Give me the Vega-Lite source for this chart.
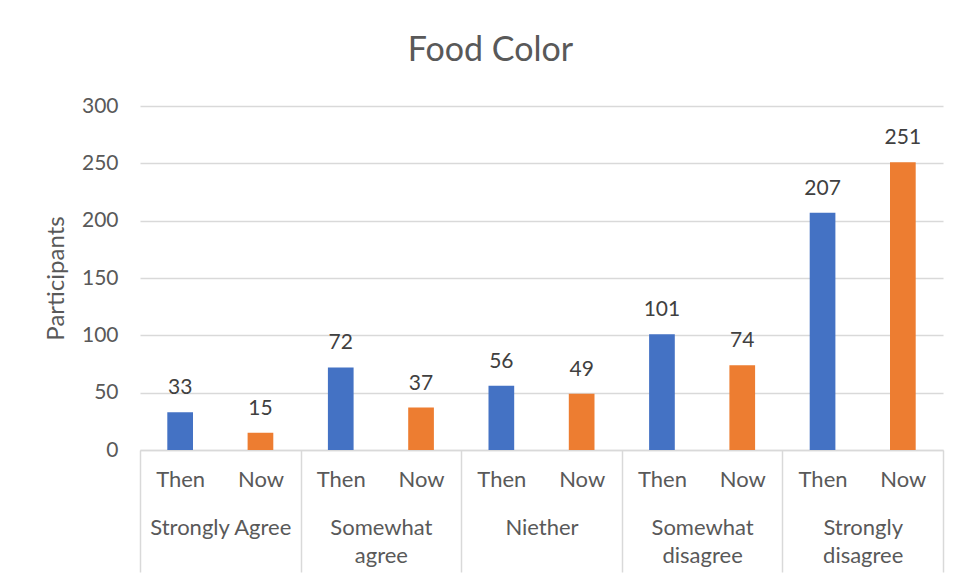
{
  "$schema": "https://vega.github.io/schema/vega-lite/v6.json",
  "autosize": {"type": "none"},
  "padding": {"left": 140, "top": 106, "right": 21, "bottom": 131},
  "width": 803,
  "height": 344,
  "background": "white",
  "title": {
    "text": "Food Color",
    "font": "Lato",
    "fontSize": 34,
    "fontWeight": "normal",
    "color": "#595959",
    "anchor": "middle",
    "baseline": "bottom",
    "offset": -7,
    "dx": -51
  },
  "data": {
    "values": [
      {"group": "Strongly Agree", "period": "Then", "key": "Strongly Agree|Then", "value": 33},
      {"group": "Strongly Agree", "period": "Now", "key": "Strongly Agree|Now", "value": 15},
      {"group": "Somewhat agree", "period": "Then", "key": "Somewhat agree|Then", "value": 72},
      {"group": "Somewhat agree", "period": "Now", "key": "Somewhat agree|Now", "value": 37},
      {"group": "Niether", "period": "Then", "key": "Niether|Then", "value": 56},
      {"group": "Niether", "period": "Now", "key": "Niether|Now", "value": 49},
      {"group": "Somewhat disagree", "period": "Then", "key": "Somewhat disagree|Then", "value": 101},
      {"group": "Somewhat disagree", "period": "Now", "key": "Somewhat disagree|Now", "value": 74},
      {"group": "Strongly disagree", "period": "Then", "key": "Strongly disagree|Then", "value": 207},
      {"group": "Strongly disagree", "period": "Now", "key": "Strongly disagree|Now", "value": 251}
    ]
  },
  "encoding": {
    "y": {
      "field": "value",
      "type": "quantitative",
      "scale": {"domain": [0, 300], "nice": false},
      "axis": {
        "title": "Participants",
        "values": [0, 50, 100, 150, 200, 250, 300],
        "domain": false,
        "ticks": false,
        "labelPadding": 22,
        "labelFont": "Lato",
        "labelFontSize": 21,
        "labelColor": "#595959",
        "titleFont": "Lato",
        "titleFontSize": 24,
        "titleFontWeight": "normal",
        "titleColor": "#595959",
        "titlePadding": 13,
        "gridColor": "#D9D9D9",
        "gridWidth": 1.5
      }
    }
  },
  "layer": [
    {
      "mark": {"type": "bar"},
      "encoding": {
        "x": {
          "field": "group",
          "type": "nominal",
          "sort": null,
          "scale": {"paddingInner": 0, "paddingOuter": 0},
          "axis": {
            "title": null,
            "orient": "bottom",
            "grid": false,
            "domain": false,
            "ticks": true,
            "tickBand": "extent",
            "tickSize": 122,
            "tickColor": "#D9D9D9",
            "tickWidth": 1.5,
            "labelAngle": 0,
            "labelPadding": -45,
            "labelBaseline": "middle",
            "labelFont": "Lato",
            "labelFontSize": 22,
            "labelColor": "#595959",
            "labelLineHeight": 28,
            "labelExpr": "!isValid(datum.value) ? '' : (datum.value == 'Strongly Agree' || datum.value == 'Niether' ? datum.value : split(datum.value, ' '))"
          }
        },
        "xOffset": {
          "field": "period",
          "type": "nominal",
          "sort": ["Then", "Now"],
          "scale": {"paddingInner": 0.68, "paddingOuter": 0.34}
        },
        "color": {
          "field": "period",
          "type": "nominal",
          "scale": {"domain": ["Then", "Now"], "range": ["#4472C4", "#ED7D31"]},
          "legend": null
        }
      }
    },
    {
      "mark": {"type": "text", "baseline": "bottom", "dy": -14, "font": "Lato", "fontSize": 21, "color": "#404040"},
      "encoding": {
        "x": {
          "field": "key",
          "type": "nominal",
          "sort": null,
          "scale": {"paddingInner": 0.68, "paddingOuter": 0.34},
          "axis": {
            "title": null,
            "orient": "bottom",
            "grid": false,
            "domain": true,
            "domainColor": "#D9D9D9",
            "domainWidth": 1.5,
            "ticks": false,
            "labelAngle": 0,
            "labelPadding": 29,
            "labelBaseline": "middle",
            "labelFont": "Lato",
            "labelFontSize": 22,
            "labelColor": "#595959",
            "labelExpr": "split(datum.value, '|')[1]"
          }
        },
        "text": {"field": "value", "type": "quantitative"}
      }
    }
  ],
  "resolve": {"scale": {"x": "independent", "xOffset": "independent"}, "axis": {"x": "independent"}},
  "config": {
    "view": {"stroke": null},
    "axis": {"labelOverlap": false}
  }
}
